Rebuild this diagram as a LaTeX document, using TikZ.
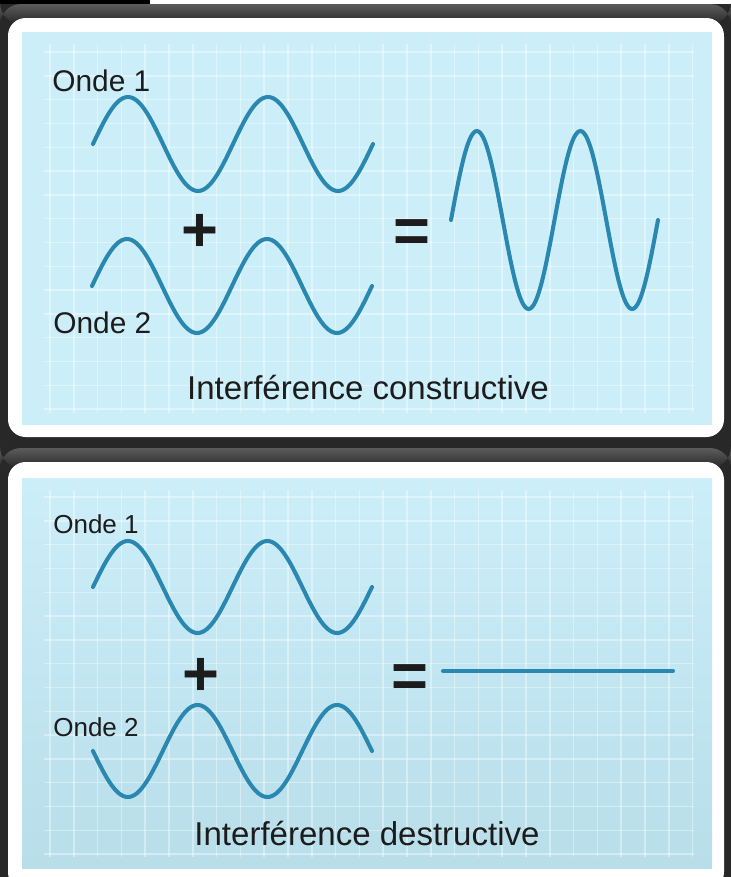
\documentclass[tikz,border=0pt]{standalone}
\usepackage{fontspec}
\setmainfont{Liberation Sans}
\usetikzlibrary{positioning}
\definecolor{frameDark}{RGB}{40,40,40}
\definecolor{frameLight}{RGB}{92,92,92}
\definecolor{panelBlue}{RGB}{204,238,249}
\definecolor{panelBlueLow}{RGB}{184,222,234}
\definecolor{waveBlue}{RGB}{42,136,176}
\definecolor{inkDark}{RGB}{28,28,28}

% one sine wave: start x, centre line, period, amplitude (negative = starts downwards)
\newcommand{\drawwave}[4]{%
  \draw[wave] plot[domain=0:720, samples=121, smooth] ({#1+\x/360*#3}, {#2-#4*sin(\x)});}

\begin{document}
\begin{tikzpicture}[x=0.02cm, y=-0.02cm,
    wave/.style={waveBlue, line width=2.3pt, line cap=round},
    gridline/.style={white, line width=0.8pt, opacity=0.38},
    label/.style={text=inkDark, inner sep=0pt, anchor=base west},
    caption/.style={text=inkDark, inner sep=0pt, anchor=base, font=\fontsize{18.8}{22}\selectfont},
    sign/.style={text=inkDark, inner sep=0pt, anchor=base, font=\fontsize{36}{40}\selectfont\bfseries}]
  \clip (0,0) rectangle (731,877);
  % Frames
  \fill[frameDark] (0,0) rectangle (731,877);
  \fill[black] (0,0) rectangle (150,4);
  \fill[white] (150,0) rectangle (731,4);
  \shade[top color=frameLight, bottom color=frameDark, rounded corners=12] (0,4) rectangle (731,24);
  \shade[top color=frameLight, bottom color=frameDark, rounded corners=12] (0,448) rectangle (731,468);
  \fill[white, rounded corners=10] (8,18) rectangle (724,437);
  \fill[white, rounded corners=10] (8,462) rectangle (724,890);
  % Blue panels and grid
  \fill[panelBlue] (22,32) rectangle (712,425);
  \shade[top color=panelBlue, middle color=panelBlue, bottom color=panelBlueLow] (22,478) rectangle (712,868);
  \foreach \k in {0,...,27} {
    \draw[gridline] ({50+\k*23.8},44) -- ({50+\k*23.8},413);
    \draw[gridline] ({50+\k*23.8},490) -- ({50+\k*23.8},857);
  }
  \foreach \k in {0,...,15} {
    \draw[gridline] (44,{52+\k*23.8}) -- (694,{52+\k*23.8});
    \draw[gridline] (44,{497+\k*23.8}) -- (694,{497+\k*23.8});
  }
  % Constructive interference
  \drawwave{93}{144}{140}{47}
  \drawwave{92}{286}{140}{47}
  \drawwave{451}{220}{103.5}{89}
  \node[label, font=\fontsize{17}{20}\selectfont] (onde1c) at (52,91) {Onde 1};
  \node[label, font=\fontsize{17}{20}\selectfont] (onde2c) at (53,333) {Onde 2};
  \node[sign] (plusc) at (200,251) {+};
  \node[sign] (eqc) at (412,252) {=};
  \node[caption] (titlec) at (368,399) {Interférence constructive};
  % Destructive interference
  \drawwave{93}{587}{139.5}{46}
  \drawwave{93}{751}{139.5}{-46}
  \draw[wave] (443,671) -- (673,671);
  \node[label, font=\fontsize{14.8}{18}\selectfont] (onde1d) at (53,533) {Onde 1};
  \node[label, font=\fontsize{14.8}{18}\selectfont] (onde2d) at (53,736) {Onde 2};
  \node[sign] (plusd) at (201,695) {+};
  \node[sign] (eqd) at (410,697) {=};
  \node[caption] (titled) at (367,845) {Interférence destructive};
\end{tikzpicture}
\end{document}
